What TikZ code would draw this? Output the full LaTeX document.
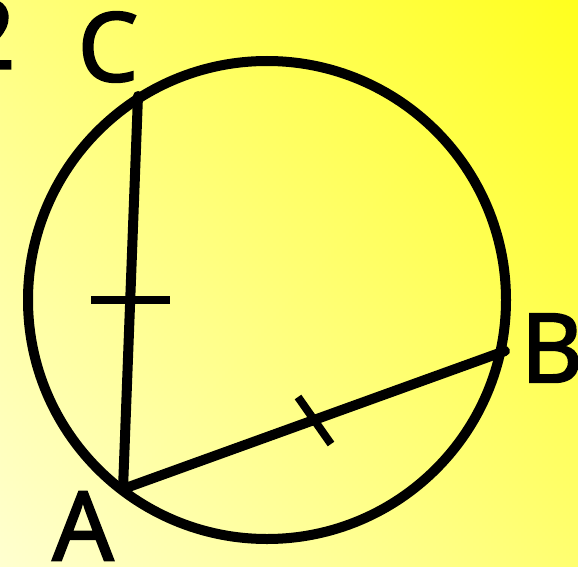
\documentclass[tikz,border=0pt]{standalone}
\usepackage{fontspec}
\setmainfont{Noto Sans}
\newfontfamily\lblfont{Noto Sans}[FakeBold=2]
\begin{document}
\begin{tikzpicture}[x=1pt,y=-1pt,
  bigline/.style={line width=10pt,line cap=round,line join=round},
  tickline/.style={line width=8pt},
  lbl/.style={inner sep=0pt,font=\lblfont\fontsize{96}{96}\selectfont}]
\useasboundingbox (0,0) rectangle (578,567);
\shade[shading=axis,shading angle=135,top color=yellow!100!white,bottom color=yellow!8!white] (-120,-120) rectangle (698,687);
\shade[left color=yellow!15!white,right color=yellow!90!white,opacity=0.5] (0,0) rectangle (578,567);
\node[lbl] (two) at (-12,34) {2};
\coordinate (O) at (267,300);
\draw[bigline] (O) circle (239);
\coordinate (C) at (138,96);
\coordinate (A) at (123,489);
\coordinate (B) at (505,351);
\draw[bigline] (C) -- (A) -- (B);
\coordinate (t1a) at (91,300);
\coordinate (t1b) at (170,300);
\draw[tickline] (t1a) -- (t1b);
\coordinate (t2a) at (298,397);
\coordinate (t2b) at (331,444);
\draw[tickline] (t2a) -- (t2b);
\node[lbl] (lC) at (108,47) {C};
\node[lbl] (lA) at (83,526) {A};
\node[lbl] (lB) at (552,348) {B};
\end{tikzpicture}
\end{document}
